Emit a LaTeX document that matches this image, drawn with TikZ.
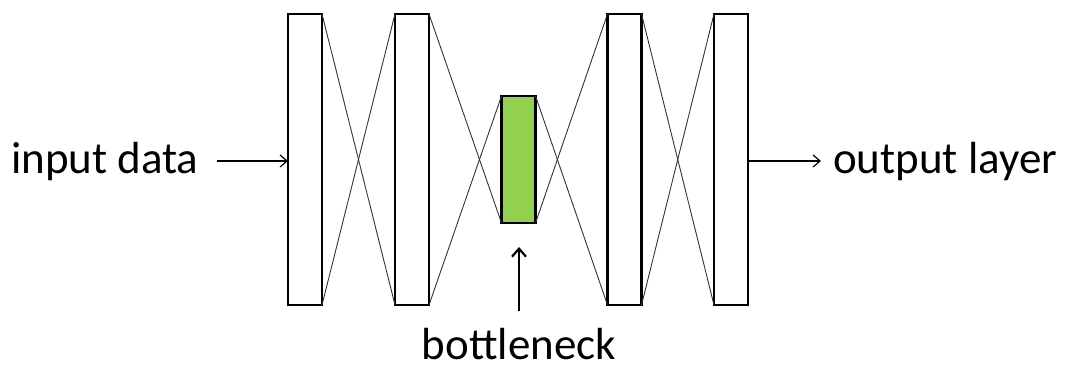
\documentclass[tikz,border=0pt]{standalone}
\usepackage{fontspec}
\setmainfont{Carlito}
\usetikzlibrary{arrows.meta}
\definecolor{codegreen}{HTML}{92D050}
\begin{document}
\begin{tikzpicture}[x=1pt,y=-1pt,
  layerbox/.style={draw=black,line width=2.8pt,fill=white,minimum width=34pt,inner sep=0pt,outer sep=0pt},
  link/.style={line width=0.9pt,black!80},
  feed/.style={line width=1.2pt,-{Straight Barb[length=7pt,width=12pt]}},
  label/.style={font=\fontsize{45}{54}\selectfont,inner sep=0pt}]
\useasboundingbox (0,0) rectangle (1072,365);
% encoder, bottleneck and decoder layers
\node[layerbox,minimum height=291pt] (l1) at (305,159.5) {};
\node[layerbox,minimum height=291pt] (l2) at (412,159.5) {};
\node[layerbox,minimum height=127pt,fill=codegreen] (l3) at (518.5,159.5) {};
\node[layerbox,minimum height=291pt] (l4) at (624.5,159.5) {};
\node[layerbox,minimum height=291pt] (l5) at (731,159.5) {};
% crossing connections between neighbouring layers
\foreach \a/\b in {l1/l2,l2/l3,l3/l4,l4/l5}{
  \draw[link] (\a.north east) -- (\b.south west);
  \draw[link] (\a.south east) -- (\b.north west);
}
% labels
\node[label,anchor=base west] (in) at (11,173) {input data};
\node[label,anchor=base west] (out) at (833,173) {output layer};
\node[label,anchor=base] (bn) at (519,359) {bottleneck};
\coordinate (inend) at (217,161);
\coordinate (outend) at (821,161);
\coordinate (bntail) at (519,311);
\coordinate (bntip) at (519,247);
\draw[feed] (inend) -- (l1.west |- inend);
\draw[feed] (l5.east |- outend) -- (outend);
\draw[line width=2.2pt,-{Straight Barb[length=8pt,width=14pt]}] (bntail) -- (bntip);
\end{tikzpicture}
\end{document}
